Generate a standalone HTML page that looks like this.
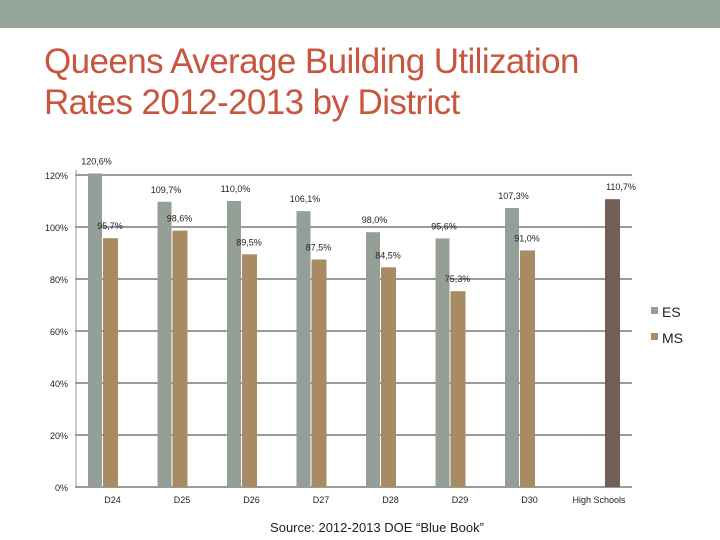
<!DOCTYPE html>
<html><head><meta charset="utf-8"><style>
body{margin:0;width:720px;height:540px;background:#fff;overflow:hidden;font-family:"Liberation Sans",sans-serif}
#band{position:absolute;left:0;top:0;width:720px;height:28px;background:#96a59c}
#title{position:absolute;left:44px;top:41px;font-size:35px;line-height:41px;color:#c8553d;letter-spacing:-0.6px}
svg{position:absolute;left:0;top:0}
</style></head><body>
<div id="band"></div>
<div id="title">Queens Average Building Utilization<br>Rates 2012-2013 by District</div>
<svg id="chart" width="720" height="540"></svg>
<script>
const categories=["D24","D25","D26","D27","D28","D29","D30","High Schools"];
const esValues=[120.6,109.7,110.0,106.1,98.0,95.6,107.3,null];
const msValues=[95.7,98.6,89.5,87.5,84.5,75.3,91.0,110.7];
const yTicks=[0,20,40,60,80,100,120];
const svg=document.getElementById('chart');
const NS='http://www.w3.org/2000/svg';
function y(v){return 487-v*2.6;}
function cx(i){return 102.5+i*69.5;}
function mk(tag,attrs,name){const e=document.createElementNS(NS,tag);for(const k in attrs)e.setAttribute(k,attrs[k]);


svg.appendChild(e);return e;}
function fmt(v){return v.toFixed(1).replace('.',',')+'%';}
yTicks.forEach(t=>{
 mk('line',{x1:75,x2:632,y1:y(t),y2:y(t),stroke:'#9a9a9a','stroke-width':2},'gridline-'+t);
 const tx=mk('text',{x:68,y:y(t)+4,'font-size':9,'text-anchor':'end',fill:'#222'},'y-tick-'+t);tx.textContent=t+'%';
});
mk('line',{x1:76,x2:76,y1:170,y2:488,stroke:'#9a9a9a','stroke-width':1},'y-axis');
categories.forEach((c,i)=>{
 const tx=mk('text',{x:cx(i)+10,y:503,'font-size':9,'text-anchor':'middle',fill:'#222'},'x-label-'+i);tx.textContent=c;
 const hs=(esValues[i]===null);
 if(esValues[i]!==null){
  const v=esValues[i];
  mk('rect',{x:cx(i)-14.5,y:y(v),width:14,height:y(0)-y(v),fill:'#949f97'},'bar-es-'+c);
  const l=mk('text',{x:cx(i)-6,y:y(v)-9,'font-size':9,'text-anchor':'middle',fill:'#222'},'label-es-'+c);l.textContent=fmt(v);
 }
 if(msValues[i]!==null){
  const v=msValues[i];const x0=hs?cx(i)+16:cx(i)+0.5;
  mk('rect',{x:x0,y:y(v),width:15,height:y(0)-y(v),fill:hs?'#735e55':'#a88b63'},'bar-ms-'+c);
  const l=mk('text',{x:x0+(hs?16:7),y:y(v)-9,'font-size':9,'text-anchor':'middle',fill:'#222'},'label-ms-'+c);l.textContent=fmt(v);
 }
});
mk('rect',{x:651,y:307,width:7,height:7,fill:'#949f97'},'legend-es-swatch');
let t=mk('text',{x:662,y:317,'font-size':14,fill:'#222'},'legend-es-label');t.textContent='ES';
mk('rect',{x:651,y:333,width:7,height:7,fill:'#a88b63'},'legend-ms-swatch');
t=mk('text',{x:662,y:343,'font-size':14,fill:'#222'},'legend-ms-label');t.textContent='MS';
t=mk('text',{x:377,y:532,'font-size':13,'text-anchor':'middle',fill:'#222'},'source-note');t.textContent='Source: 2012-2013 DOE “Blue Book”';
</script>
</body></html>
